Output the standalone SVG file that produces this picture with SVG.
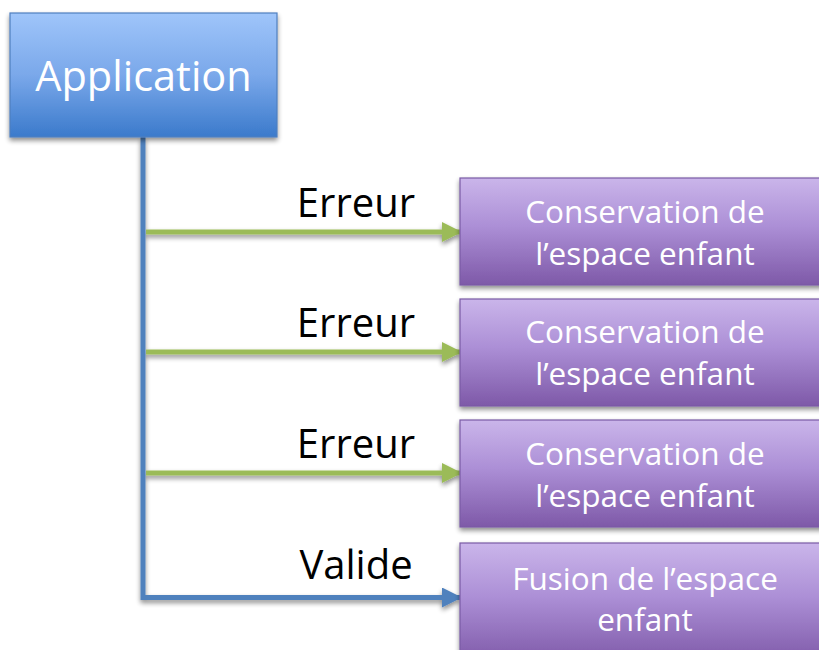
<svg xmlns="http://www.w3.org/2000/svg" width="819" height="650" viewBox="0 0 819 650">
<style>
.lbl{font-family:"Open Sans","Noto Sans",sans-serif;font-size:40px;fill:#000;text-anchor:middle}
.wt{font-family:"Open Sans","Noto Sans",sans-serif;font-size:31.5px;fill:#fff;text-anchor:middle}
.app{font-family:"Open Sans","Noto Sans",sans-serif;font-size:41.5px;fill:#fff;text-anchor:middle}
.green{stroke:#9bbb59;stroke-width:5;fill:none;marker-end:url(#ag)}
.blue{stroke:#4f81bd;stroke-width:5;fill:none}
.pbox{fill:url(#pg);stroke:#7a5aa5;stroke-width:1.2;filter:url(#sh)}
</style>
<defs>
<linearGradient id="bg" x1="0" y1="0" x2="0" y2="1">
<stop offset="0" stop-color="#9fc5fa"/><stop offset="0.5" stop-color="#7aa8ea"/><stop offset="1" stop-color="#3b7acb"/>
</linearGradient>
<linearGradient id="pg" x1="0" y1="0" x2="0" y2="1">
<stop offset="0" stop-color="#cab5ea"/><stop offset="0.45" stop-color="#ac8fd6"/><stop offset="1" stop-color="#7e59a8"/>
</linearGradient>
<filter id="sh" x="-10%" y="-10%" width="130%" height="130%">
<feGaussianBlur in="SourceAlpha" stdDeviation="2.5"/><feOffset dx="0" dy="3" result="b"/>
<feComponentTransfer><feFuncA type="linear" slope="0.45"/></feComponentTransfer>
<feMerge><feMergeNode/><feMergeNode in="SourceGraphic"/></feMerge>
</filter>
<marker id="ag" markerWidth="4" markerHeight="4" refX="3.6" refY="2" orient="auto" markerUnits="strokeWidth">
<path d="M0,0 L4,2 L0,4 Z" fill="#9bbb59"/>
</marker>
<marker id="ab" markerWidth="4" markerHeight="4" refX="3.6" refY="2" orient="auto" markerUnits="strokeWidth">
<path d="M0,0 L4,2 L0,4 Z" fill="#4f81bd"/>
</marker>
</defs>
<g id="connectors" filter="url(#sh)">
<path class="green" d="M146,232 H460"/>
<path class="green" d="M146,352 H460"/>
<path class="green" d="M146,473 H460"/>
<path class="blue" d="M143,137 V597.5 H460" marker-end="url(#ab)"/>
</g>
<g id="app">
<rect x="10" y="13" width="267" height="124" fill="url(#bg)" stroke="#4f7fbf" stroke-width="1.2" filter="url(#sh)"/>
<text class="app" x="143.5" y="91">Application</text>
</g>
<g id="lbl1"><text class="lbl" x="356" y="217">Erreur</text></g>
<g id="lbl2"><text class="lbl" x="356" y="337">Erreur</text></g>
<g id="lbl3"><text class="lbl" x="356" y="458">Erreur</text></g>
<g id="lbl4"><text class="lbl" x="356" y="579">Valide</text></g>
<g id="n1">
<rect class="pbox" x="460" y="178" width="370" height="107"/>
<text class="wt" x="645" y="223">Conservation de</text>
<text class="wt" x="645" y="265">l’espace enfant</text>
</g>
<g id="n2">
<rect class="pbox" x="460" y="299" width="370" height="107"/>
<text class="wt" x="645" y="343">Conservation de</text>
<text class="wt" x="645" y="385">l’espace enfant</text>
</g>
<g id="n3">
<rect class="pbox" x="460" y="420" width="370" height="107"/>
<text class="wt" x="645" y="465">Conservation de</text>
<text class="wt" x="645" y="507">l’espace enfant</text>
</g>
<g id="n4">
<rect class="pbox" x="460" y="543" width="370" height="120"/>
<text class="wt" x="645" y="590">Fusion de l’espace</text>
<text class="wt" x="645" y="631">enfant</text>
</g>
</svg>
